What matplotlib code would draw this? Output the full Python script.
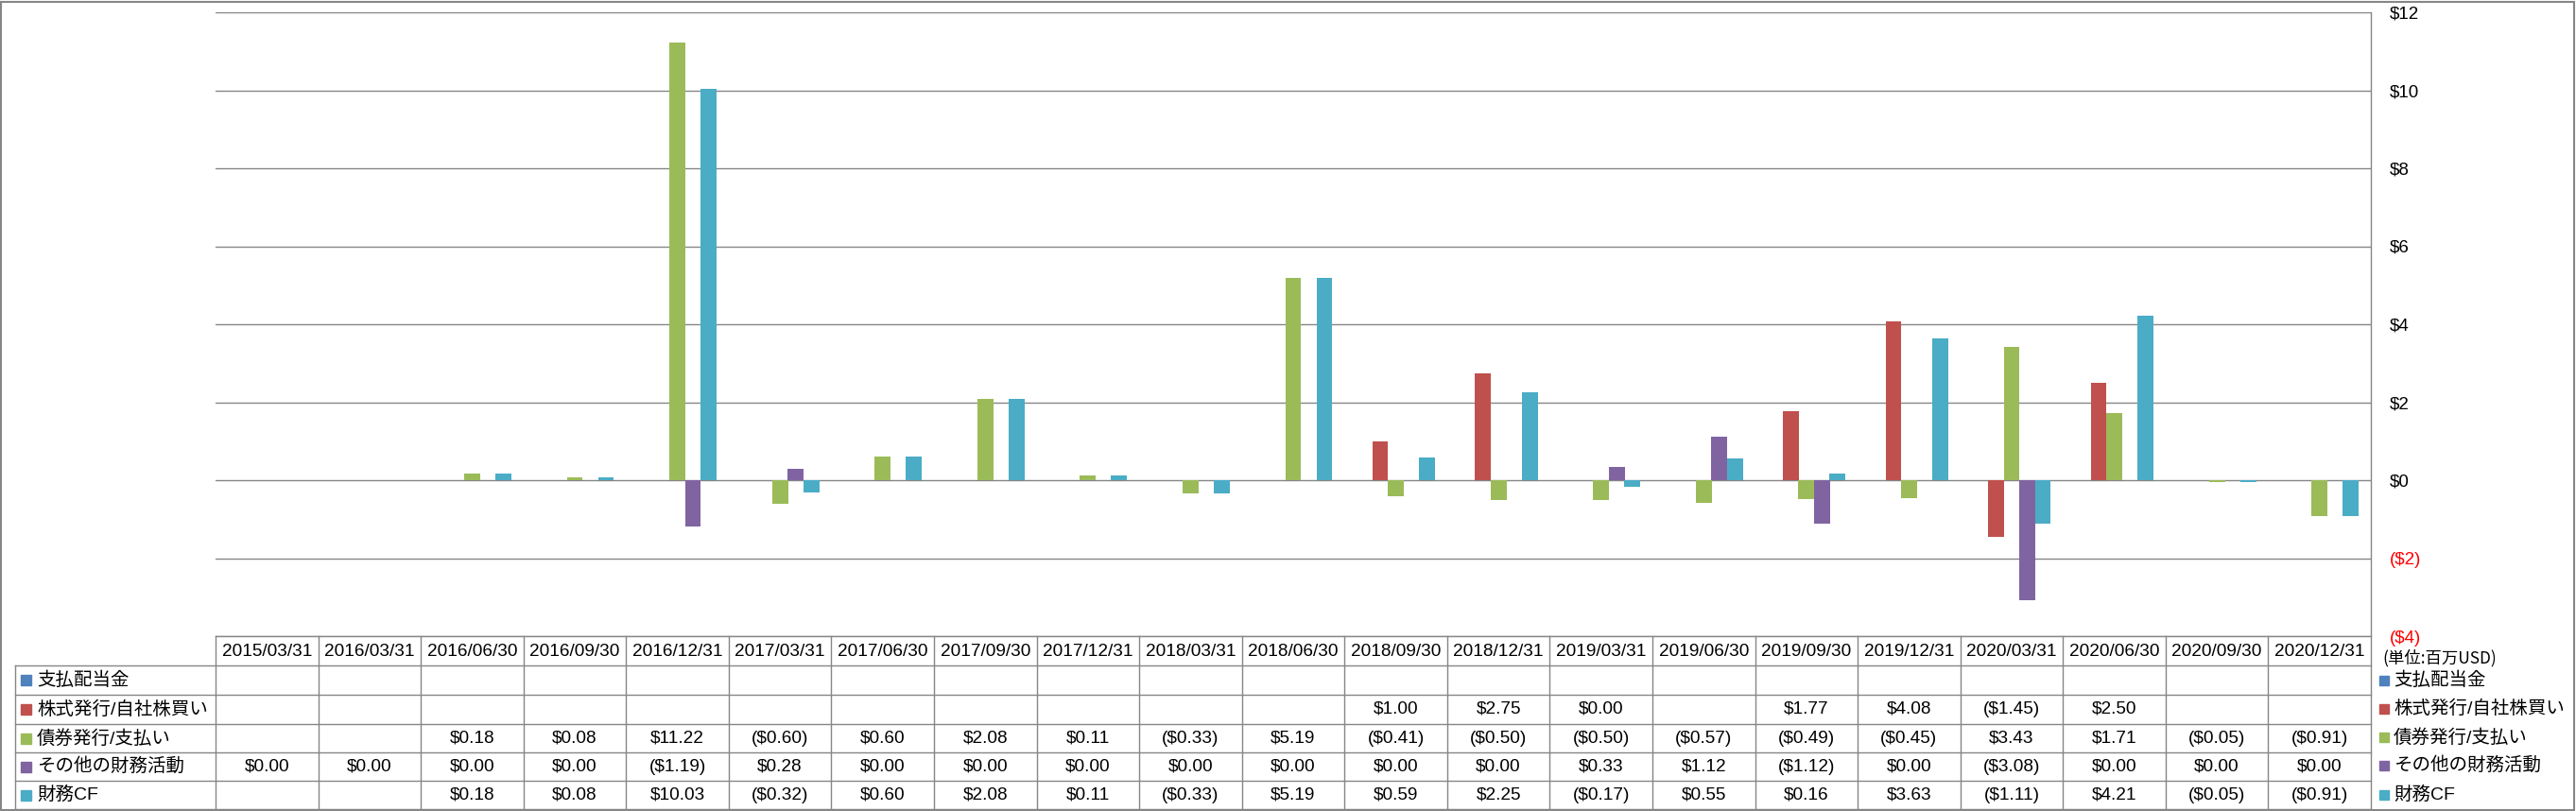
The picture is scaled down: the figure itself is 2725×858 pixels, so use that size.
import matplotlib.pyplot as plt
from matplotlib.patches import Rectangle
import numpy as np

plt.rcParams['font.family'] = ['Liberation Sans', 'Noto Sans CJK JP', 'DejaVu Sans']

# Data (unit: million USD)
dates = ['2015/03/31', '2016/03/31', '2016/06/30', '2016/09/30', '2016/12/31',
         '2017/03/31', '2017/06/30', '2017/09/30', '2017/12/31', '2018/03/31',
         '2018/06/30', '2018/09/30', '2018/12/31', '2019/03/31', '2019/06/30',
         '2019/09/30', '2019/12/31', '2020/03/31', '2020/06/30', '2020/09/30',
         '2020/12/31']
series_names = ['支払配当金', '株式発行/自社株買い', '債券発行/支払い', 'その他の財務活動', '財務CF']
dividends = [None] * 21
stock = [None, None, None, None, None, None, None, None, None, None, None,
         1.00, 2.75, 0.00, None, 1.77, 4.08, -1.45, 2.50, None, None]
bonds = [None, None, 0.18, 0.08, 11.22, -0.60, 0.60, 2.08, 0.11, -0.33, 5.19,
         -0.41, -0.50, -0.50, -0.57, -0.49, -0.45, 3.43, 1.71, -0.05, -0.91]
other = [0.00, 0.00, 0.00, 0.00, -1.19, 0.28, 0.00, 0.00, 0.00, 0.00, 0.00,
         0.00, 0.00, 0.33, 1.12, -1.12, 0.00, -3.08, 0.00, 0.00, 0.00]
fin_cf = [None, None, 0.18, 0.08, 10.03, -0.32, 0.60, 2.08, 0.11, -0.33, 5.19,
          0.59, 2.25, -0.17, 0.55, 0.16, 3.63, -1.11, 4.21, -0.05, -0.91]
series = [dividends, stock, bonds, other, fin_cf]
colors = ['#4F81BD', '#C0504D', '#9BBB59', '#8064A2', '#4BACC6']
yticks = [-4, -2, 0, 2, 4, 6, 8, 10, 12]
unit_label = '(単位:百万USD)'

W, H = 2725, 858
grid_c = '#868686'


def money(v):
    if v is None:
        return ''
    if v < 0:
        return '(${:.2f})'.format(-v)
    return '${:.2f}'.format(v)


fig = plt.figure(figsize=(W / 100, H / 100), dpi=100)
ax = fig.add_axes([228 / W, (H - 673) / H, 2280 / W, 660 / H])

x = np.arange(len(dates))
slot = 0.152
for k, (vals, col) in enumerate(zip(series, colors)):
    xs = [xi + (k - 2) * slot for xi, v in zip(x, vals) if v is not None]
    hs = [v for v in vals if v is not None]
    ax.bar(xs, hs, width=0.155, color=col, zorder=3)

ax.set_xlim(-0.5, len(dates) - 0.5)
ax.set_ylim(-4, 12)
ax.set_yticks(yticks)
ax.set_yticklabels(['${}'.format(t) if t >= 0 else '(${})'.format(-t) for t in yticks])
ax.yaxis.tick_right()
ax.tick_params(axis='y', length=0, pad=14, labelsize=13.5)
ax.tick_params(axis='x', bottom=False, labelbottom=False)
for tick, t in zip(ax.yaxis.get_major_ticks(), yticks):
    tick.label2.set_color('red' if t < 0 else 'black')
ax.grid(axis='y', color=grid_c, lw=1, zorder=0)
for s in ax.spines.values():
    s.set_visible(False)

# overlay in pixel coordinates for the data table and legend
ov = fig.add_axes([0, 0, 1, 1])
ov.set_xlim(0, W)
ov.set_ylim(H, 0)
ov.axis('off')

edges = [ax.transData.transform((i - 0.5, 0))[0] for i in range(len(dates) + 1)]
right = edges[-1]
row_y = [673, 704, 735, 766, 796, 826, 856]
table_left = 16

# table lines
ov.plot([edges[0], right], [673, 673], color=grid_c, lw=1)
for y in row_y[1:]:
    ov.plot([table_left, right], [y, y], color=grid_c, lw=1)
ov.plot([table_left, table_left], [704, 856], color=grid_c, lw=1)
for e in edges[:-1]:
    ov.plot([e, e], [673, 856], color=grid_c, lw=1)
ov.plot([right, right], [13, 856], color=grid_c, lw=1)

# header
for i, d in enumerate(dates):
    cx = (edges[i] + edges[i + 1]) / 2
    ov.text(cx, 689, d, ha='center', va='center', fontsize=13.7)

# rows
for r, (name, vals, col) in enumerate(zip(series_names, series, colors)):
    cy = (row_y[r + 1] + row_y[r + 2]) / 2
    ov.add_patch(Rectangle((22, cy - 5.5), 11, 11, color=col))
    ov.text(39, cy, name, ha='left', va='center', fontsize=14)
    for i, v in enumerate(vals):
        cx = (edges[i] + edges[i + 1]) / 2
        ov.text(cx, cy, money(v), ha='center', va='center', fontsize=13.7)

# right legend
ov.text(2520, 696, unit_label, ha='left', va='center', fontsize=12.5,
        family=['Noto Sans CJK JP', 'DejaVu Sans'])
leg_y = [720, 750, 780, 810, 841]
for name, col, ly in zip(series_names, colors, leg_y):
    ov.add_patch(Rectangle((2517, ly - 5), 10, 10, color=col))
    ov.text(2532, ly, name, ha='left', va='center', fontsize=14)

# outer border
ov.add_patch(Rectangle((1, 1.5), W - 3, H - 3, fill=False, edgecolor=grid_c, lw=1.5))

fig.savefig('out.png', dpi=100)
